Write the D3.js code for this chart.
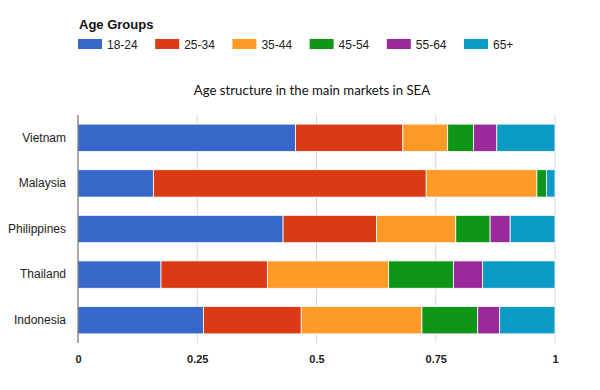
<!DOCTYPE html>
<html><head><meta charset="utf-8">
<script src="https://cdn.jsdelivr.net/npm/d3@7"></script>
<style>body{margin:0;background:#fff}svg{display:block}</style>
</head><body>
<svg id="c" width="600" height="390"></svg>
<script>
const countries = ["Vietnam","Malaysia","Philippines","Thailand","Indonesia"];
const ageGroups = ["18-24","25-34","35-44","45-54","55-64","65+"];
const colors = ["#3867cb","#dc3a15","#fe9a28","#0f9618","#9a299b","#0b99c5"];
const v18_24 = [0.456,0.158,0.430,0.174,0.263];
const v25_34 = [0.225,0.572,0.196,0.223,0.205];
const v35_44 = [0.094,0.232,0.166,0.254,0.253];
const v45_54 = [0.054,0.020,0.072,0.136,0.117];
const v55_64 = [0.049,0.000,0.042,0.061,0.046];
const v65p   = [0.122,0.018,0.094,0.152,0.116];
const xTicks = [0,0.25,0.5,0.75,1];
const xTickLabels = ["0","0.25","0.5","0.75","1"];
const titleText = "Age structure in the main markets in SEA";
const legendTitle = "Age Groups";

const series = [v18_24,v25_34,v35_44,v45_54,v55_64,v65p];
const rows = countries.map((c,i)=>{const o={country:c}; ageGroups.forEach((g,j)=>o[g]=series[j][i]); return o;});
const stack = d3.stack().keys(ageGroups)(rows);

const svg = d3.select("#c");
const x = d3.scaleLinear().domain([0,1]).range([78,555]);
const y = d3.scaleBand().domain(countries).range([115,343]).paddingInner(0.4).paddingOuter(0.2);

// gridlines
svg.append("g").selectAll("line").data(xTicks.slice(1)).join("line")
  .attr("x1",d=>x(d)).attr("x2",d=>x(d)).attr("y1",115).attr("y2",343)
  .attr("stroke","#d6d6d6").attr("stroke-width",1);

// bars
svg.append("g").selectAll("g").data(stack).join("g")
  .attr("fill",(d,i)=>colors[i])
  .selectAll("rect").data(d=>d).join("rect")
  .attr("x",d=>x(d[0])).attr("width",d=>Math.max(0,x(d[1])-x(d[0])))
  .attr("y",d=>y(d.data.country)).attr("height",y.bandwidth())
  .attr("stroke","#fff").attr("stroke-width",0.8);

// left axis line
svg.append("line").attr("x1",x(0)).attr("x2",x(0)).attr("y1",115).attr("y2",343)
  .attr("stroke","#555").attr("stroke-width",1);

// category labels
const ya = d3.axisLeft(y).tickSize(0).tickPadding(12);
const yg = svg.append("g").attr("transform",`translate(${x(0)},0)`).call(ya);
yg.select(".domain").remove();
yg.selectAll("text").attr("font-family","Liberation Sans, Arial, sans-serif").attr("font-size",12).attr("fill","#222");

// bottom axis
const xa = d3.axisBottom(x).tickValues(xTicks).tickFormat((d,i)=>xTickLabels[i]).tickSize(0).tickPadding(12);
const xg = svg.append("g").attr("transform","translate(0,343)").call(xa);
xg.select(".domain").remove();
xg.selectAll("text").attr("font-family","Liberation Sans, Arial, sans-serif").attr("font-size",11).attr("font-weight","bold").attr("fill","#222");

// title
svg.append("text").attr("x",312).attr("y",95).attr("text-anchor","middle")
  .attr("font-family","Lato, sans-serif").attr("font-size",13.2).attr("fill","#111").text(titleText);

// legend
svg.append("text").attr("x",79).attr("y",29).attr("font-family","Liberation Sans, Arial, sans-serif")
  .attr("font-size",13).attr("font-weight","bold").attr("fill","#111").text(legendTitle);
const lx = d3.scalePoint().domain(ageGroups).range([78,464]);
const lg = svg.append("g").selectAll("g").data(ageGroups).join("g").attr("transform",d=>`translate(${lx(d)},39)`);
lg.append("rect").attr("width",24).attr("height",10).attr("fill",(d,i)=>colors[i]);
lg.append("text").attr("x",29).attr("y",9.5).attr("font-family","Liberation Sans, Arial, sans-serif")
  .attr("font-size",12).attr("fill","#222").text(d=>d);
</script>
</body></html>
